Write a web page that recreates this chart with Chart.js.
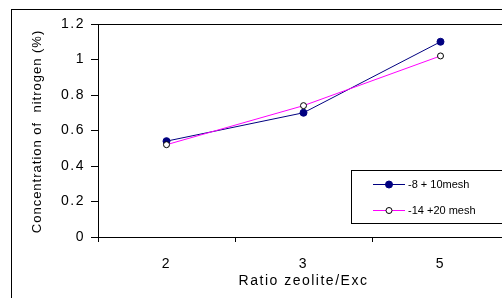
<!DOCTYPE html>
<html>
<head>
<meta charset="utf-8">
<script src="https://cdn.jsdelivr.net/npm/chart.js@4/dist/chart.umd.min.js"></script>
<style>
  html, body { margin: 0; padding: 0; background: #fff; overflow: hidden; }
  #wrap { width: 502px; height: 298px; overflow: hidden; }
</style>
</head>
<body>
<div id="wrap"><canvas id="chart" width="520" height="298"></canvas></div>
<script>
const ratios = ["2", "3", "5"];
const coarseMesh = [0.54, 0.70, 1.10];
const fineMesh = [0.52, 0.74, 1.02];
const seriesNames = ["-8 + 10mesh", "-14 +20 mesh"];
const yTitle = "Concentration of  nitrogen (%)";
const xTitle = "Ratio zeolite/Exc";

const fontFamily = "Arial, 'Liberation Sans', sans-serif";

// frame, plot border, y title and the boxed legend like the excel original
const excelBits = {
  id: "excelBits",
  beforeDraw(chart) {
    const { ctx, chartArea: a } = chart;
    ctx.save();
    ctx.strokeStyle = "#000";
    ctx.lineWidth = 1;
    ctx.strokeRect(11.5, 9.5, 700, 400);
    ctx.beginPath();
    ctx.moveTo(a.left, Math.round(a.top) + 0.5);
    ctx.lineTo(a.right + 20, Math.round(a.top) + 0.5);
    ctx.stroke();

    ctx.translate(37.5, 131.5);
    ctx.rotate(-Math.PI / 2);
    ctx.fillStyle = "#000";
    ctx.font = "13px " + fontFamily;
    ctx.letterSpacing = "1px";
    ctx.textAlign = "center";
    ctx.textBaseline = "middle";
    ctx.fillText(yTitle, 0, 0);
    ctx.restore();
    // the axis text in the original is drawn a bit wide
    ctx.letterSpacing = "1.5px";
  },
  afterDraw(chart) {
    const { ctx } = chart;
    ctx.save();
    ctx.letterSpacing = "0px";
    ctx.fillStyle = "#fff";
    ctx.fillRect(351, 170, 300, 53);
    ctx.strokeStyle = "#000";
    ctx.lineWidth = 1;
    ctx.strokeRect(351.5, 170.5, 300, 53);
    ctx.font = "11px " + fontFamily;
    ctx.textBaseline = "middle";
    chart.data.datasets.forEach((ds, i) => {
      const y = 184 + i * 26;
      ctx.strokeStyle = ds.borderColor;
      ctx.beginPath();
      ctx.moveTo(373, y + 0.5);
      ctx.lineTo(405, y + 0.5);
      ctx.stroke();
      ctx.beginPath();
      ctx.arc(389, y + 0.5, ds.pointRadius, 0, Math.PI * 2);
      ctx.fillStyle = ds.pointBackgroundColor;
      ctx.fill();
      ctx.strokeStyle = ds.pointBorderColor;
      ctx.stroke();
      ctx.fillStyle = "#000";
      ctx.fillText(ds.label, 408, y + 0.5);
    });
    ctx.restore();
  }
};

new Chart(document.getElementById("chart"), {
  type: "line",
  data: {
    labels: ratios,
    datasets: [
      {
        label: seriesNames[0],
        data: coarseMesh,
        order: 1,
        borderColor: "#000080",
        borderWidth: 1,
        pointRadius: 3.5,
        pointBackgroundColor: "#000080",
        pointBorderColor: "#000080",
        pointBorderWidth: 1,
        tension: 0
      },
      {
        label: seriesNames[1],
        data: fineMesh,
        order: 0,
        borderColor: "#ff00ff",
        borderWidth: 1,
        pointRadius: 3,
        pointBackgroundColor: "#ffffff",
        pointBorderColor: "#000000",
        pointBorderWidth: 1,
        tension: 0
      }
    ]
  },
  options: {
    responsive: false,
    animation: false,
    layout: { padding: { top: 24, right: 11, left: 0, bottom: 0 } },
    plugins: {
      legend: { display: false },
      tooltip: { enabled: false }
    },
    scales: {
      x: {
        offset: true,
        grid: { offset: true, drawOnChartArea: false, tickLength: 5, color: "#000" },
        border: { color: "#000" },
        ticks: { color: "#000", padding: 14, font: { family: fontFamily, size: 14 } },
        title: {
          display: true,
          text: xTitle,
          color: "#000",
          font: { family: fontFamily, size: 14 },
          padding: { top: 0, bottom: 8 }
        },
        afterFit(s) { s.height = 61; }
      },
      y: {
        min: 0,
        max: 1.2,
        ticks: {
          stepSize: 0.2,
          color: "#000",
          padding: 6,
          font: { family: fontFamily, size: 14 },
          callback: (v) => Math.round(v * 10) / 10
        },
        grid: { drawOnChartArea: false, tickLength: 7, color: "#000" },
        border: { color: "#000" },
        afterFit(s) { s.width = 98; }
      }
    }
  },
  plugins: [excelBits]
});
</script>
</body>
</html>
